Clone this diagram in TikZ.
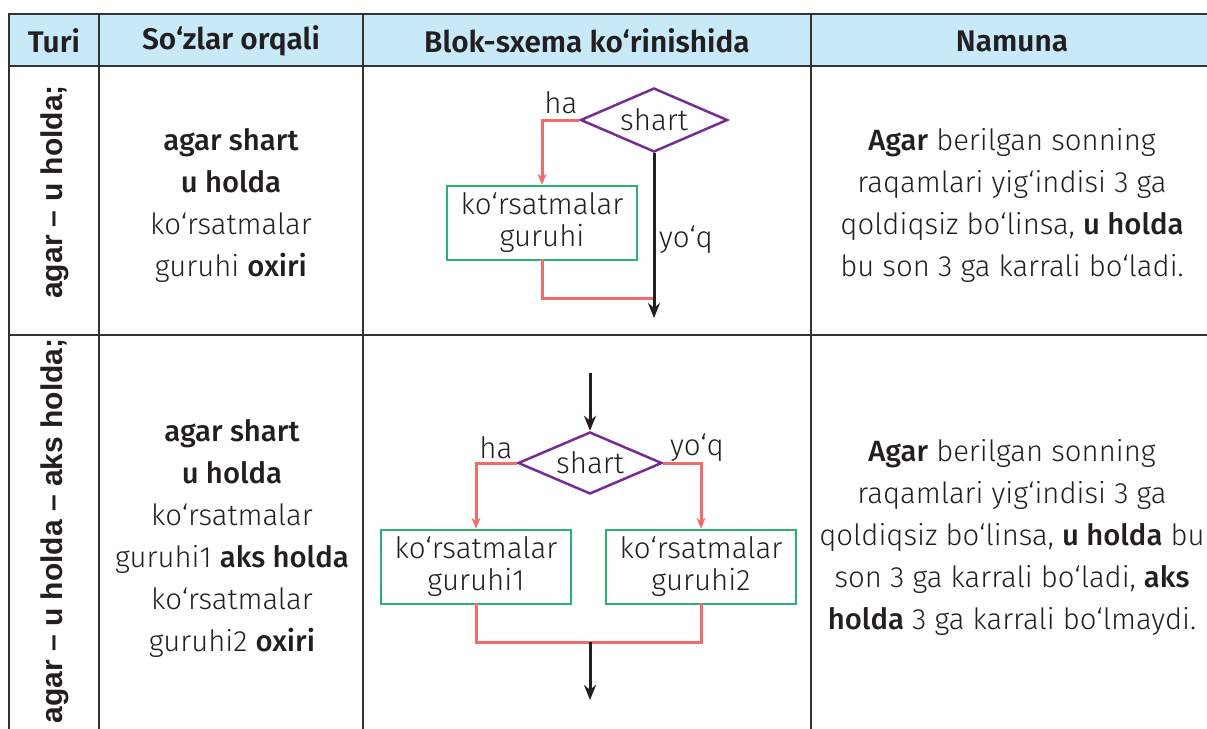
\documentclass[tikz,border=0pt]{standalone}
\usepackage{fontspec}
\setmainfont{Fira Sans Light}[BoldFont={Fira Sans Medium}]
\newfontfamily\headfont{Fira Sans SemiBold}
\newfontfamily\sidefont{Liberation Sans}
\usepackage{xcolor}
\usepackage{tikz}
\usetikzlibrary{shapes.geometric,arrows.meta,positioning}
\definecolor{headbg}{HTML}{C8E9F8}
\definecolor{grid}{HTML}{333333}
\definecolor{ink}{HTML}{231F20}
\definecolor{condc}{HTML}{762C97}
\definecolor{flowc}{HTML}{F06B6B}
\definecolor{actc}{HTML}{27B46E}
\tikzset{
  rule/.style={draw=grid, line width=2.6pt},
  head/.style={text=ink, font=\headfont\fontsize{29.8}{30}\selectfont},
  side/.style={text=ink, font=\sidefont\bfseries\fontsize{30}{30}\selectfont, rotate=90},
  txt/.style={text=ink, align=center, font=\fontsize{29.3}{42}\selectfont},
  lab/.style={text=ink, font=\fontsize{29.5}{30}\selectfont, inner sep=1pt},
  cond/.style={diamond, draw=condc, line width=2.5pt, aspect=2.3, inner sep=0pt,
    minimum width=147pt, minimum height=64pt, text=ink, font=\fontsize{29.5}{30}\selectfont},
  act/.style={rectangle, draw=actc, line width=2.5pt, minimum width=190pt, minimum height=74pt,
    inner sep=0pt, align=center, text=ink, font=\fontsize{29.5}{32}\selectfont},
  yes/.style={draw=flowc, line width=3pt, -{Stealth[length=11pt,width=9pt]}},
  back/.style={draw=flowc, line width=3pt},
  main/.style={draw=ink, line width=3pt, -{Stealth[length=15pt,width=12pt]}},
}

\begin{document}
\begin{tikzpicture}[x=1pt,y=-1pt]
  \useasboundingbox (0,0) rectangle (1207,728);
  \clip (0,0) rectangle (1207,728);

  % table
  \fill[headbg] (9,14) rectangle (1213,66);
  \draw[rule] (9,740) -- (9,14) -- (1213,14) -- (1213,740);
  \draw[rule] (9,66) -- (1213,66);
  \draw[rule] (9,335) -- (1213,335);
  \foreach \x in {99,363,811} \draw[rule] (\x,14) -- (\x,740);

  \node[head] (hturi) at (54,41) {Turi};
  \node[head] (hsoz) at (231,41) {So‘zlar orqali};
  \node[head] (hblok) at (587,41) {Blok-sxema ko‘rinishida};
  \node[head] (hnam) at (1012,41) {Namuna};

  % agar - u holda
  \node[side] (side1) at (55,192) {agar – u holda;};
  \node[txt] (soz1) at (231,205) {\textbf{agar shart}\\ \textbf{u holda}\\ ko‘rsatmalar\\ guruhi \textbf{oxiri}};
  \node[txt] (nam1) at (1012,205) {\textbf{Agar} berilgan sonning\\ raqamlari yig‘indisi 3 ga\\
    qoldiqsiz bo‘linsa, \textbf{u holda}\\ bu son 3 ga karrali bo‘ladi.};

  \node[cond] (d1) at (654,120) {shart};
  \node[act] (b1) at (542,223) {ko‘rsatmalar\\ guruhi};
  \node[lab] (ha1) at (561,103) {ha};
  \node[lab] (yoq1) at (686,240) {yo‘q};
  \coordinate (m1) at (654,298);
  \coordinate (e1) at (654,318);
  \draw[yes] (d1.west) -| (b1.north);
  \draw[back] ([yshift=2pt]b1.south) |- (m1);
  \draw[main] (d1.south) -- (e1);

  % agar - u holda - aks holda
  \node[side] (side2) at (55,531) {agar – u holda – aks holda;};
  \node[txt] (soz2) at (232,538) {\textbf{agar shart}\\ \textbf{u holda}\\ ko‘rsatmalar\\
    guruhi1 \textbf{aks holda}\\ ko‘rsatmalar\\ guruhi2 \textbf{oxiri}};
  \node[txt] (nam2) at (1012,537) {\textbf{Agar} berilgan sonning\\ raqamlari yig‘indisi 3 ga\\
    qoldiqsiz bo‘linsa, \textbf{u holda} bu\\ son 3 ga karrali bo‘ladi, \textbf{aks}\\
    \textbf{holda} 3 ga karrali bo‘lmaydi.};

  \node[cond, minimum width=144pt, minimum height=62pt] (d2) at (590,463) {shart};
  \node[act] (b2) at (476,567) {ko‘rsatmalar\\ guruhi1};
  \node[act] (b3) at (701,567) {ko‘rsatmalar\\ guruhi2};
  \node[lab] (ha2) at (496,448) {ha};
  \node[lab] (yoq2) at (697,448) {yo‘q};
  \coordinate (s2) at (590,373);
  \coordinate (m2) at (590,642);
  \coordinate (e2) at (590,700);
  \draw[main] (s2) -- (d2.north);
  \draw[yes] (d2.west) -| (b2.north);
  \draw[yes] (d2.east) -| (b3.north);
  \draw[back] ([yshift=2pt]b2.south) |- (m2) -| ([yshift=2pt]b3.south);
  \draw[main] (m2) -- (e2);
\end{tikzpicture}
\end{document}
